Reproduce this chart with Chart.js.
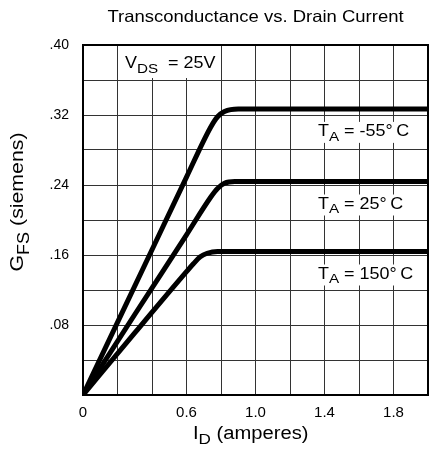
<!DOCTYPE html>
<html>
<head>
<meta charset="utf-8">
<script src="https://cdn.jsdelivr.net/npm/chart.js@4/dist/chart.umd.min.js"></script>
<style>
  html, body { margin: 0; padding: 0; background: #fff; }
  canvas { display: block; }
</style>
</head>
<body>
<canvas id="gfsChart" width="431" height="454"></canvas>
<script>
// drain current (A) and transconductance (S)
const idMinus55 = [0, 0.4, 0.6, 0.74, 0.78, 0.82, 0.9, 2.0];
const gfsMinus55 = [0, 0.166, 0.249, 0.306, 0.318, 0.324, 0.327, 0.327];

const id25 = [0, 0.3, 0.6, 0.74, 0.78, 0.82, 0.88, 2.0];
const gfs25 = [0, 0.092, 0.183, 0.226, 0.236, 0.242, 0.244, 0.244];

const id150 = [0, 0.3, 0.6, 0.64, 0.68, 0.72, 0.78, 2.0];
const gfs150 = [0, 0.071, 0.141, 0.15, 0.158, 0.162, 0.164, 0.164];

const xTickLabels = ['0', '0.6', '1.0', '1.4', '1.8'];
const yTickLabels = ['.08', '.16', '.24', '.32', '.40'];

const curveLabels = [
  { temp: '-55°\u2009C', at: 0.327 },
  { temp: '25°\u2009C', at: 0.244 },
  { temp: '150°\u2009C', at: 0.164 }
];

const toPoints = (xs, ys) => xs.map((x, i) => ({ x, y: ys[i] }));

const FONT = '"Liberation Sans", Arial, Helvetica, sans-serif';
const STRETCH = 1.12; // the scan's lettering is a bit wide

function partsWidth(ctx, parts, size) {
  let w = 0;
  parts.forEach(([txt, sub]) => {
    ctx.font = (sub ? size * 0.85 : size) + 'px ' + FONT;
    w += ctx.measureText(txt).width;
  });
  return w * STRETCH;
}

function drawParts(ctx, parts, x, y, size) {
  // parts: [text, isSubscript]
  ctx.save();
  ctx.translate(x, y);
  ctx.scale(STRETCH, 1);
  let cx = 0;
  parts.forEach(([txt, sub]) => {
    ctx.font = (sub ? size * 0.85 : size) + 'px ' + FONT;
    ctx.fillText(txt, cx, sub ? size * 0.3 : 0);
    cx += ctx.measureText(txt).width;
  });
  ctx.restore();
}

const decorPlugin = {
  id: 'decor',
  beforeDatasetsDraw(chart) {
    const { ctx, chartArea, scales } = chart;
    ctx.save();
    ctx.fillStyle = '#fff';
    // box behind V_DS label
    const bx0 = scales.x.getPixelForValue(0.2) + 1;
    const bx1 = scales.x.getPixelForValue(0.8) - 1;
    ctx.fillRect(bx0, chartArea.top + 1, bx1 - bx0, 32);

    ctx.fillStyle = '#000';
    ctx.textBaseline = 'alphabetic';
    ctx.textAlign = 'left';
    drawParts(ctx, [['V', false], ['DS', true], ['  = 25V', false]], 125, 68, 16);

    curveLabels.forEach(c => {
      const parts = [['T', false], ['A', true], [' = ' + c.temp, false]];
      const yb = scales.y.getPixelForValue(c.at) + 27;
      const w = partsWidth(ctx, parts, 16);
      ctx.fillStyle = '#fff';
      ctx.fillRect(316, yb - 14, w + 4, 21);
      ctx.fillStyle = '#000';
      drawParts(ctx, parts, 318, yb, 16);
    });
    ctx.restore();
  },
  afterDraw(chart) {
    const { ctx, chartArea } = chart;
    ctx.save();
    ctx.strokeStyle = '#000';
    ctx.lineWidth = 2;
    ctx.strokeRect(chartArea.left, chartArea.top, chartArea.right - chartArea.left, chartArea.bottom - chartArea.top);

    ctx.fillStyle = '#000';
    ctx.textBaseline = 'alphabetic';
    ctx.textAlign = 'left';
    const cx = (chartArea.left + chartArea.right) / 2;

    const title = [['Transconductance vs. Drain Current', false]];
    drawParts(ctx, title, cx - partsWidth(ctx, title, 16.5) / 2, 22, 16.5);

    const xt = [['I', false], ['D', true], [' (amperes)', false]];
    drawParts(ctx, xt, 193, 439, 18);

    const yt = [['G', false], ['FS', true], [' (siemens)', false]];
    ctx.translate(23, 202);
    ctx.rotate(-Math.PI / 2);
    drawParts(ctx, yt, -partsWidth(ctx, yt, 19) / 2, 0, 19);
    ctx.restore();
  }
};

const near = (a, b) => Math.abs(a - b) < 1e-6;

new Chart(document.getElementById('gfsChart'), {
  type: 'line',
  data: {
    datasets: [
      { data: toPoints(idMinus55, gfsMinus55) },
      { data: toPoints(id25, gfs25) },
      { data: toPoints(id150, gfs150) }
    ]
  },
  options: {
    responsive: false,
    animation: false,
    layout: { padding: { top: 45, right: 3, left: 0, bottom: 0 } },
    elements: {
      line: { borderColor: '#000', borderWidth: 5, cubicInterpolationMode: 'monotone', fill: false, capBezierPoints: true },
      point: { radius: 0 }
    },
    plugins: { legend: { display: false }, title: { display: false }, tooltip: { enabled: false } },
    scales: {
      x: {
        type: 'linear',
        min: 0, max: 2.0,
        afterFit(s) { s.height = 59; s.paddingLeft = 0; s.paddingRight = 0; },
        grid: { color: '#333', lineWidth: 1, drawTicks: false },
        border: { display: false },
        ticks: {
          stepSize: 0.2,
          padding: 9,
          color: '#000',
          font: { family: FONT, size: 15 },
          maxRotation: 0,
          autoSkip: false,
          callback: v => xTickLabels.find(l => near(parseFloat(l), v)) || ''
        }
      },
      y: {
        min: 0, max: 0.4,
        afterFit(s) { s.width = 83; s.paddingTop = 0; s.paddingBottom = 0; },
        grid: { color: '#333', lineWidth: 1, drawTicks: false },
        border: { display: false },
        ticks: {
          stepSize: 0.04,
          padding: 14,
          color: '#000',
          font: { family: FONT, size: 14 },
          autoSkip: false,
          callback: v => yTickLabels.find(l => near(parseFloat(l), v)) || ''
        }
      }
    }
  },
  plugins: [decorPlugin]
});
</script>
</body>
</html>
